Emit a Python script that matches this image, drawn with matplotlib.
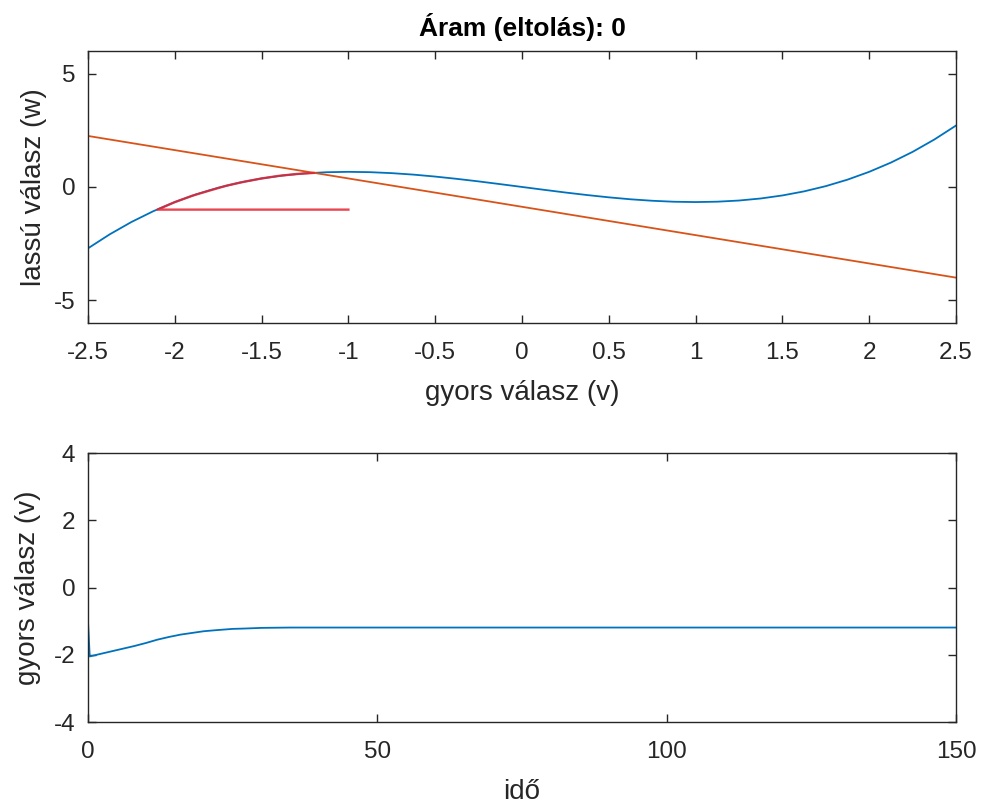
import numpy as np
import matplotlib.pyplot as plt

plt.rcParams['font.family'] = ['Liberation Sans', 'DejaVu Sans']

# v-nullcline (cubic), sampled every 0.125
v_grid = [-2.5, -2.375, -2.25, -2.125, -2.0, -1.875, -1.75, -1.625, -1.5, -1.375,
          -1.25, -1.125, -1.0, -0.875, -0.75, -0.625, -0.5, -0.375, -0.25, -0.125, 0.0,
          0.125, 0.25, 0.375, 0.5, 0.625, 0.75, 0.875, 1.0, 1.125, 1.25,
          1.375, 1.5, 1.625, 1.75, 1.875, 2.0, 2.125, 2.25, 2.375, 2.5]
w_cubic = [-2.708, -2.091, -1.547, -1.074, -0.667, -0.322, -0.036, 0.195, 0.375, 0.509,
           0.599, 0.650, 0.667, 0.652, 0.609, 0.544, 0.458, 0.357, 0.245, 0.124, 0.0,
           -0.124, -0.245, -0.357, -0.458, -0.544, -0.609, -0.652, -0.667, -0.650, -0.599,
           -0.509, -0.375, -0.195, 0.036, 0.322, 0.667, 1.074, 1.547, 2.091, 2.708]

# w-nullcline (straight line) end points
v_line = [-2.5, 2.5]
w_line = [2.25, -4.0]

# trajectory in the phase plane
traj_v = [-1.0, -1.5, -2.1, -2.0, -1.9, -1.8, -1.7, -1.6, -1.5, -1.4, -1.3, -1.2]
traj_w = [-1.0, -1.0, -1.0, -0.67, -0.39, -0.16, 0.06, 0.23, 0.375, 0.49, 0.57, 0.62]

# v over time
t = [0, 0.3, 2, 4, 6, 8, 10, 12, 14, 16, 18, 20, 22, 25, 27, 30, 35, 40, 150]
v_t = [-1.0, -2.05, -1.98, -1.9, -1.82, -1.74, -1.65, -1.55, -1.47, -1.4, -1.35, -1.3,
       -1.27, -1.23, -1.22, -1.2, -1.19, -1.19, -1.19]

blue = (0, 0.447, 0.741)
orange = (0.85, 0.325, 0.098)
axcol = (0.15, 0.15, 0.15)

fig = plt.figure(figsize=(9.82, 8.06), dpi=100)
ax1 = fig.add_axes([0.0896, 0.5993, 0.8839, 0.3375])
ax2 = fig.add_axes([0.0896, 0.1042, 0.8839, 0.3337])

ax1.plot(v_grid, w_cubic, color=blue, lw=1.3)
ax1.plot(v_line, w_line, color=orange, lw=1.3)
ax1.plot(traj_v, traj_w, color=(0.9, 0.15, 0.2), lw=1.7, alpha=0.85)
ax1.set_xlim(-2.5, 2.5)
ax1.set_ylim(-6, 6)
ax1.set_xticks(np.arange(-2.5, 2.51, 0.5))
ax1.set_xticklabels(['-2.5', '-2', '-1.5', '-1', '-0.5', '0', '0.5', '1', '1.5', '2', '2.5'])
ax1.set_yticks([-5, 0, 5])
ax1.set_yticklabels(['-5', '0', '5'])
ax1.set_xlabel('gyors válasz (v)', fontsize=20, color=axcol, labelpad=11)
ax1.set_ylabel('lassú válasz (w)', fontsize=20, color=axcol, labelpad=5)
ax1.set_title('Áram (eltolás): 0', fontsize=19, fontweight='bold', pad=11)

ax2.plot(t, v_t, color=blue, lw=1.3)
ax2.set_xlim(0, 150)
ax2.set_ylim(-4, 4)
ax2.set_xticks([0, 50, 100, 150])
ax2.set_yticks([-4, -2, 0, 2, 4])
ax2.set_yticklabels(['-4', '-2', '0', '2', '4'])
ax2.set_xlabel('idő', fontsize=20, color=axcol, labelpad=11)
ax2.set_ylabel('gyors válasz (v)', fontsize=20, color=axcol, labelpad=9)

for ax in (ax1, ax2):
    ax.tick_params(direction='in', length=6, width=1, top=True, right=True,
                   labelsize=17.5, labelcolor=axcol, color=axcol)
    ax.tick_params(axis='x', pad=14)
    ax.tick_params(axis='y', pad=9)
    for s in ax.spines.values():
        s.set_color(axcol)
        s.set_linewidth(1)

fig.savefig('out.png', dpi=100)
